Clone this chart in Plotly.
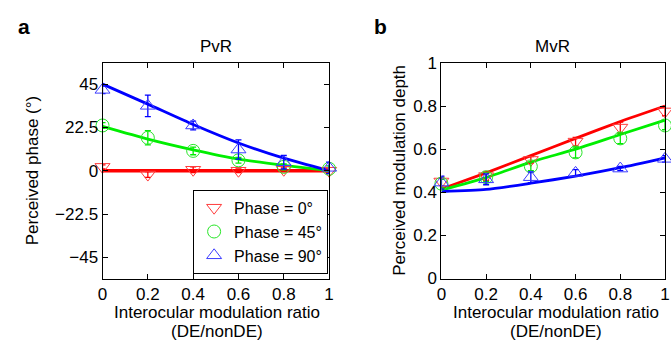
import plotly.graph_objects as go

# ---------- data ----------
x_pts = [0, 0.2, 0.4, 0.6, 0.8, 1.0]

# Panel a (PvR) - perceived phase (deg)
a_p0 = [2.0, -2.0, 0.5, 0.0, 0.5, 0.0]
a_p0_err = [1.0, 1.5, 1.5, 1.0, 1.0, 1.0]
a_p45 = [23.5, 17.1, 10.3, 5.4, 2.0, 1.0]
a_p45_err = [1.5, 3.7, 2.0, 1.5, 1.5, 1.5]
a_p90 = [42.0, 33.7, 23.5, 11.0, 4.4, 1.5]
a_p90_err = [2.0, 5.6, 2.3, 5.0, 3.5, 3.0]

a_fit_p0 = [0, 0, 0, 0, 0, 0]
a_fit_p45 = [23.0, 16.4, 10.8, 6.0, 2.8, 0.0]
a_fit_p90 = [45.0, 34.6, 24.0, 14.4, 6.5, 0.0]

# Panel b (MvR) - perceived modulation depth
b_p0 = [0.45, 0.475, 0.55, 0.635, 0.70, 0.775]
b_p0_err = [0.02, 0.02, 0.015, 0.02, 0.025, 0.02]
b_p45 = [0.44, 0.47, 0.52, 0.585, 0.65, 0.71]
b_p45_err = [0.02, 0.02, 0.02, 0.025, 0.025, 0.02]
b_p90 = [0.445, 0.46, 0.47, 0.49, 0.51, 0.555]
b_p90_err = [0.03, 0.025, 0.025, 0.015, 0.01, 0.015]

b_fit_p0 = [0.415, 0.49, 0.57, 0.65, 0.728, 0.80]
b_fit_p45 = [0.41, 0.468, 0.54, 0.60, 0.668, 0.735]
b_fit_p90 = [0.403, 0.413, 0.442, 0.475, 0.514, 0.56]

a_yticks = [-45, -22.5, 0, 22.5, 45]
a_yticklabels = ["\u221245", "\u221222.5", "0", "22.5", "45"]
b_yticks = [0, 0.2, 0.4, 0.6, 0.8, 1]
b_yticklabels = ["0", "0.2", "0.4", "0.6", "0.8", "1"]
x_ticks = [0, 0.2, 0.4, 0.6, 0.8, 1]
x_ticklabels = ["0", "0.2", "0.4", "0.6", "0.8", "1"]

legend_names = ["Phase = 0\u00b0", "Phase = 45\u00b0", "Phase = 90\u00b0"]
colors = ["#ff0000", "#00ee00", "#0000ff"]
mark_colors = ["rgba(255,60,60,1)", "rgba(40,230,40,1)", "rgba(60,60,255,1)"]
symbols = ["triangle-down-open", "circle-open", "triangle-up-open"]
line_widths = {"a": [3.5, 2.8, 2.8], "b": [2.8, 2.8, 2.8]}

FONT = "Liberation Sans, Arial, Helvetica, sans-serif"
FS = 17

fig = go.Figure()

series_a = [(a_p0, a_p0_err, a_fit_p0), (a_p45, a_p45_err, a_fit_p45), (a_p90, a_p90_err, a_fit_p90)]
series_b = [(b_p0, b_p0_err, b_fit_p0), (b_p45, b_p45_err, b_fit_p45), (b_p90, b_p90_err, b_fit_p90)]

for panel, series, xa, ya in [("a", series_a, "x", "y"), ("b", series_b, "x2", "y2")]:
    for i, (vals, errs, fit) in enumerate(series):
        fig.add_trace(go.Scatter(
            x=x_pts, y=fit, mode="lines", xaxis=xa, yaxis=ya,
            line=dict(color=colors[i], width=line_widths[panel][i], shape="spline", smoothing=0.6),
            showlegend=False, hoverinfo="skip", cliponaxis=False))
    for i, (vals, errs, fit) in enumerate(series):
        fig.add_trace(go.Scatter(
            x=x_pts, y=vals, mode="markers", xaxis=xa, yaxis=ya,
            name=legend_names[i], showlegend=(panel == "a"),
            marker=dict(symbol=symbols[i], size=13, color=mark_colors[i],
                        line=dict(width=1, color=mark_colors[i])),
            error_y=dict(type="data", array=errs, visible=True,
                         color=colors[i], thickness=1.3, width=3),
            cliponaxis=False))

axis_common = dict(showgrid=False, zeroline=False, showline=True, linecolor="black",
                   linewidth=1, ticks="inside", ticklen=5, tickcolor="black",
                   mirror="ticks", tickfont=dict(family=FONT, size=FS, color="black"))

fig.update_layout(
    width=671, height=350,
    margin=dict(l=0, r=0, t=0, b=0),
    paper_bgcolor="white", plot_bgcolor="white",
    font=dict(family=FONT, size=FS, color="black"),
    xaxis=dict(domain=[99/671, 329/671], range=[0, 1], tickvals=x_ticks,
               ticktext=x_ticklabels, anchor="y", **axis_common),
    yaxis=dict(domain=[65/350, 293/350], range=[-56, 56], tickvals=a_yticks,
               ticktext=a_yticklabels, anchor="x", **axis_common),
    xaxis2=dict(domain=[443/671, 670/671], range=[0, 1], tickvals=x_ticks,
                ticktext=x_ticklabels, anchor="y2", **axis_common),
    yaxis2=dict(domain=[65/350, 293/350], range=[0, 1], tickvals=b_yticks,
                ticktext=b_yticklabels, anchor="x2", **axis_common),
    legend=dict(x=328/671, y=(350-280)/350, xanchor="right", yanchor="bottom",
                bgcolor="white", bordercolor="black", borderwidth=1,
                font=dict(family=FONT, size=16, color="black"),
                itemwidth=30, tracegroupgap=0),
    showlegend=True,
)

annos = [
    dict(text="<b>a</b>", x=19/671, y=1 - 19/350, font=dict(size=21)),
    dict(text="<b>b</b>", x=381/671, y=1 - 19/350, font=dict(size=21)),
    dict(text="PvR", x=214/671, y=1 - 40/350),
    dict(text="MvR", x=556/671, y=1 - 40/350),
    dict(text="Interocular modulation ratio", x=215/671, y=1 - 321/350),
    dict(text="(DE/nonDE)", x=215/671, y=1 - 341/350),
    dict(text="Interocular modulation ratio", x=559/671, y=1 - 321/350),
    dict(text="(DE/nonDE)", x=559/671, y=1 - 341/350),
    dict(text="Perceived phase (\u00b0)", x=28/671, y=1 - 171/350, textangle=-90),
    dict(text="Perceived modulation depth", x=401/671, y=1 - 171/350, textangle=-90),
]
for a in annos:
    f = dict(family=FONT, size=FS, color="black")
    f.update(a.pop("font", {}))
    fig.add_annotation(xref="paper", yref="paper", showarrow=False,
                       xanchor="center", yanchor="middle", font=f, **a)

fig.write_html("out.html")
